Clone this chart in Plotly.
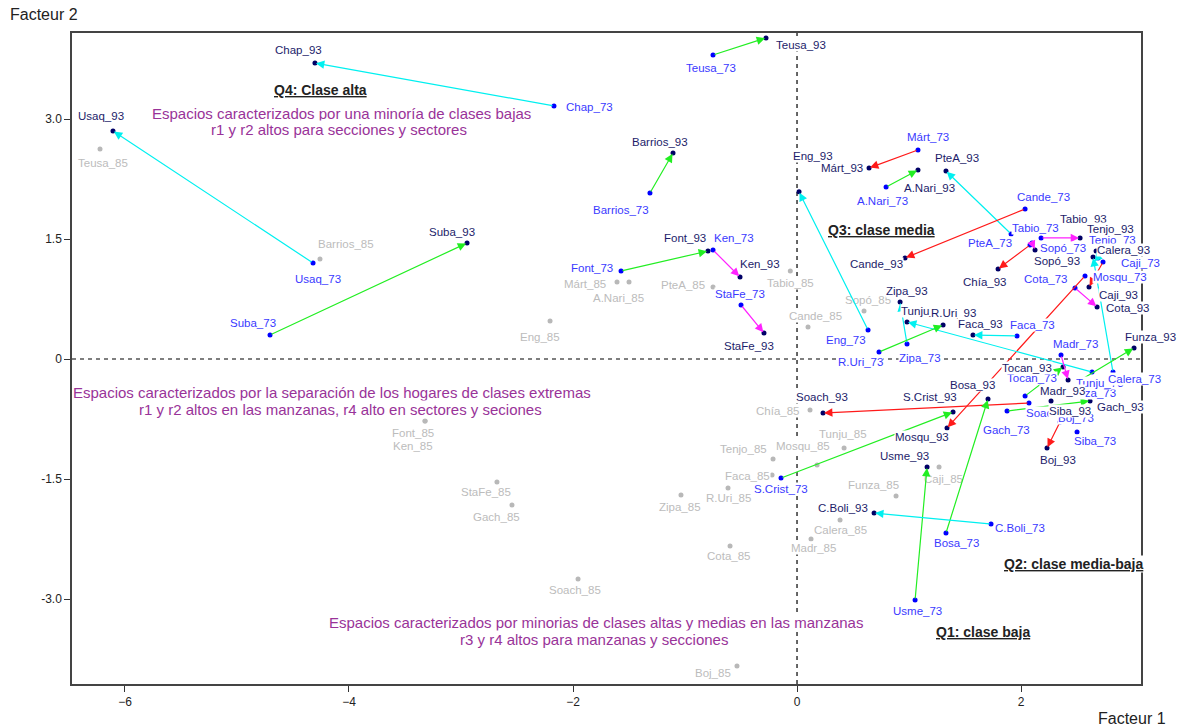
import plotly.graph_objects as go

# ---------------- data ----------------
places = ["Teusa", "Chap", "Usaq", "Suba", "Barrios", "Font", "Ken", "StaFe", "Eng",
          "Márt", "A.Nari", "PteA", "Cande", "Tabio", "Chía", "Sopó", "Tenjo", "Calera",
          "Caji", "Mosqu", "Cota", "Zipa", "Tunju", "R.Uri", "Faca", "Madr", "Tocan",
          "Funza", "Gach", "Soach", "Siba", "Boj", "Bosa", "S.Crist", "Usme", "C.Boli"]
x73 = [-0.750, -2.170, -4.321, -4.705, -1.313, -1.571, -0.750, -0.500, 0.634,
       1.080, 0.795, 1.911, 2.036, 2.179, 2.080, 2.098, 2.688, 2.821,
       2.732, 2.571, 2.482, 0.982, 2.634, 0.732, 1.964, 2.357, 2.036,
       2.518, 1.875, 2.071, 2.500, 2.348, 1.330, -0.143, 1.054, 1.732]
y73 = [3.800, 3.163, 1.200, 0.300, 2.075, 1.100, 1.363, 0.675, 0.363,
       2.613, 2.150, 1.563, 1.875, 1.513, 1.425, 1.450, 1.263, -0.163,
       1.213, 1.038, 0.888, 0.188, -0.163, 0.088, 0.288, 0.050, -0.463,
       -0.275, -0.650, -0.550, -0.913, -0.788, -2.175, -1.488, -3.013, -2.063]
x93 = [-0.277, -4.304, -6.107, -2.946, -1.107, -0.795, -0.509, -0.295, 0.018,
       0.643, 1.080, 1.330, 0.964, 2.527, 1.795, 2.125, 2.670, 2.643,
       2.607, 1.339, 2.679, 0.920, 0.982, 1.304, 1.571, 2.420, 2.375,
       3.009, 2.616, 0.232, 2.268, 2.232, 1.705, 1.393, 1.161, 0.688]
y93 = [4.013, 3.700, 2.850, 1.450, 2.575, 1.350, 1.025, 0.325, 2.090,
       2.388, 2.363, 2.350, 1.263, 1.513, 1.125, 1.363, 1.350, 1.275,
       0.900, -0.863, 0.650, 0.713, 0.463, 0.425, 0.300, -0.263, -0.100,
       0.138, -0.525, -0.675, -0.525, -1.113, -0.500, -0.663, -1.350, -1.925]
change = ["g", "c", "c", "g", "g", "g", "m", "m", "c",
          "r", "g", "c", "r", "m", "r", "m", "c", "c",
          "r", "r", "m", "c", "c", "g", "c", "m", "g",
          "g", "g", "r", "", "r", "g", "g", "g", "c"]

places85 = ["Teusa", "Barrios", "Eng", "Márt", "A.Nari", "PteA", "Tabio", "Cande", "Sopó",
            "Chía", "Tunju", "Tenjo", "Mosqu", "Faca", "R.Uri", "Caji", "Funza", "Calera",
            "Madr", "Cota", "Zipa", "Font", "Ken", "StaFe", "Gach", "Soach", "Boj"]
x85 = [-6.223, -4.259, -2.205, -1.607, -1.500, -0.750, -0.060, 0.098, 0.598,
       0.116, 0.420, -0.214, 0.179, -0.223, -0.616, 1.268, 0.884, 0.384,
       0.125, -0.598, -1.036, -3.321, -3.321, -2.679, -2.545, -1.955, -0.536]
y85 = [2.625, 1.250, 0.475, 0.963, 0.963, 0.900, 1.100, 0.400, 0.600,
       -0.638, -1.113, -1.250, -1.325, -1.450, -1.613, -1.350, -1.713, -2.013,
       -2.250, -2.338, -1.700, -0.775, -0.775, -1.538, -1.825, -2.750, -3.838]

# ---------------- styles / label offsets (px) ----------------
arrow_colors = {"g": "#22ee22", "c": "#00f0f0", "r": "#ff1a1a", "m": "#ff22ff"}
off73 = [(-2, 13), (36, 1), (5, 16), (-17, -12), (-29, 17), (-29, -3), (21, -12), (-1, -11), (-22, 10),
         (10, -13), (-4, 14), (-21, 9), (18, -12), (-6, -10), None, (31, 5), (14, -18), (21, 7),
         (37, 1), (35, 1), (-30, -9), (13, 14), (8, 11), (-19, 10), (15, -11), (14, -11), (7, -18),
         (11, 12), (-1, 19), (23, 10), (18, 9), (16, -4), (11, 10), (0, 11), (2, 11), (29, 4)]
off93 = [(35, 7), (-16, -13), (-12, -15), (-15, -11), (-13, -11), (-23, -13), (20, -13), (-15, 13), (14, -36),
         (-27, 0), (12, 18), (11, -13), (-29, 6), (3, -19), (-14, 13), (22, 11), (14, -22), (30, -7),
         (29, 8), (-25, 9), (30, 1), (7, -11), (18, -11), (10, -12), (8, -11), (-6, 11), (-36, 1),
         (16, -11), (30, 6), (-1, -16), (19, 10), (11, 12), (-16, -14), (-23, -15), (-23, -11), (-31, -5)]
off85 = [(3, 14), (26, -15), (-10, 16), (-32, 2), (-11, 16), (-30, -2), (0, 12), (7, -11), (4, -11),
         (-33, 1), (-1, -14), (-30, -10), (-14, -19), (-25, 1), (0, 10), (4, 12), (-23, -11), (0, 10),
         (2, 9), (-2, 10), (-1, 12), (-12, 12), (-12, 25), (-11, 10), (-15, 12), (-3, 11), (-24, 7)]
draw_first73 = ["Funza", "Tunju"]   # labels overdrawn by neighbours in the original

FONT = "Liberation Sans, Arial, sans-serif"
PURPLE = "#993399"
LAB = 11.5

fig = go.Figure()

fig.add_trace(go.Scatter(x=x85, y=y85, mode="markers",
                         marker=dict(color="#b8b8b8", size=5), hoverinfo="skip"))
fig.add_trace(go.Scatter(x=x73, y=y73, mode="markers",
                         marker=dict(color="#0000ff", size=5), hoverinfo="skip"))
fig.add_trace(go.Scatter(x=x93, y=y93, mode="markers",
                         marker=dict(color="#000066", size=5), hoverinfo="skip"))

ann = []

def lab(x, y, t, off, color):
    ann.append(dict(x=x, y=y, xref="x", yref="y", text=t, showarrow=False,
                    xshift=off[0], yshift=-off[1], bgcolor="white", borderpad=0,
                    font=dict(family=FONT, size=LAB, color=color)))

# grey 1985 labels (below the arrows)
for i, p in enumerate(places85):
    lab(x85[i], y85[i], p + "_85", off85[i], "#bcbcbc")

# arrows 73 -> 93
for i in range(len(places)):
    if not change[i]:
        continue
    ann.append(dict(x=x93[i], y=y93[i], ax=x73[i], ay=y73[i], xref="x", yref="y",
                    axref="x", ayref="y", showarrow=True, arrowhead=2, arrowsize=1.4,
                    arrowwidth=1.2, arrowcolor=arrow_colors[change[i]], standoff=1, text=""))

order73 = [places.index(p) for p in draw_first73] + \
          [i for i, p in enumerate(places) if p not in draw_first73]
for i in order73:
    if off73[i] is not None:
        lab(x73[i], y73[i], places[i] + "_73", off73[i], "#3a3aff")
for i, p in enumerate(places):
    lab(x93[i], y93[i], p + "_93", off93[i], "#1c1c6a")

def txt(x, y, t, color, size=15, anchor="center"):
    ann.append(dict(x=x, y=y, xref="x", yref="y", text=t, showarrow=False, xanchor=anchor,
                    bgcolor="white", borderpad=0,
                    font=dict(family=FONT, size=size, color=color)))

txt(-4.679, 3.3625, "<u><b>Q4: Clase alta</b></u>", "#222222", 14, anchor="left")
txt(-4.063, 3.075, "Espacios caracterizados por una minoría de clases bajas", PURPLE)
txt(-4.09, 2.875, "r1 y r2 altos para secciones y sectores", PURPLE)
txt(0.268, 1.6125, "<u><b>Q3: clase media</b></u>", "#222222", 14, anchor="left")
txt(-4.152, -0.4125, "Espacios caracterizados por la separación de los hogares de clases extremas", PURPLE)
txt(-4.08, -0.625, "r1 y r2 altos en las manzanas, r4 alto en sectores y seciones", PURPLE)
txt(1.84, -2.5625, "<u><b>Q2: clase media-baja</b></u>", "#222222", 14, anchor="left")
txt(-1.795, -3.2875, "Espacios caracterizados por minorias de clases altas y medias en las manzanas", PURPLE)
txt(-1.81, -3.5, "r3 y r4 altos para manzanas y secciones", PURPLE)
txt(1.232, -3.4125, "<u><b>Q1: clase baja</b></u>", "#222222", 14, anchor="left")

# figure is drawn inside an 8px page margin: compensate
W, H = 1177, 717
L, R, T, B = 64, 44, 25, 41
PW, PH = W - L - R, H - T - B
ann.append(dict(x=-L / PW, y=1 + (T - 7) / PH, xref="paper", yref="paper", text="Facteur 2",
                showarrow=False, xanchor="left", yanchor="middle",
                font=dict(family=FONT, size=16, color="#222222")))
ann.append(dict(x=1 + 27 / PW, y=-34 / PH, xref="paper", yref="paper", text="Facteur 1",
                showarrow=False, xanchor="right", yanchor="middle",
                font=dict(family=FONT, size=16, color="#222222")))

fig.update_layout(
    width=W, height=H,
    margin=dict(l=L, r=R, t=T, b=B),
    paper_bgcolor="white", plot_bgcolor="white",
    showlegend=False,
    annotations=ann,
    shapes=[
        dict(type="line", xref="x", yref="paper", x0=0, x1=0, y0=0, y1=1, layer="below",
             line=dict(color="black", width=1.2, dash="4px,4px")),
        dict(type="line", xref="paper", yref="y", x0=0, x1=1, y0=0, y1=0, layer="below",
             line=dict(color="black", width=1.2, dash="4px,4px")),
    ],
)
fig.update_xaxes(range=[-6.473, 3.071], tickvals=[-6, -4, -2, 0, 2], ticks="outside",
                 ticklen=6, tickcolor="#333", showline=True, mirror=True, linecolor="#444",
                 linewidth=1.5, showgrid=False, zeroline=False,
                 tickfont=dict(family=FONT, size=12, color="#222"))
fig.update_yaxes(range=[-4.0625, 4.075], tickvals=[3, 1.5, 0, -1.5, -3],
                 ticktext=["3.0", "1.5", "0", "-1.5", "-3.0"], ticks="outside",
                 ticklen=6, tickcolor="#333", showline=True, mirror=True, linecolor="#444",
                 linewidth=1.5, showgrid=False, zeroline=False,
                 tickfont=dict(family=FONT, size=12, color="#222"))

fig.write_html("out.html")
